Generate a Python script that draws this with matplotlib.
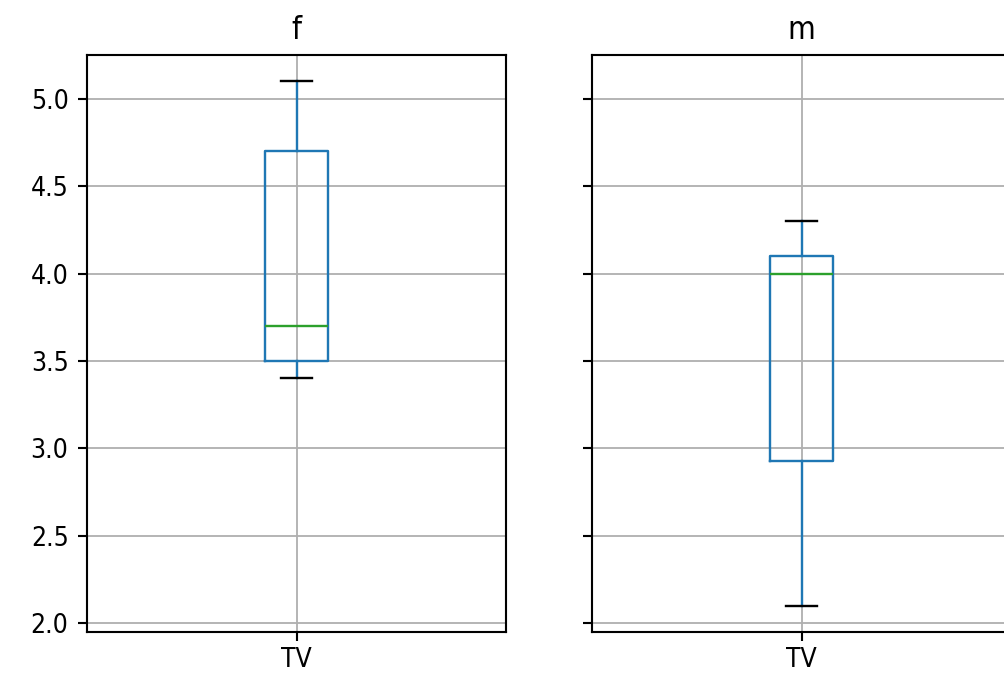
import matplotlib
matplotlib.use("Agg")
import matplotlib.pyplot as plt

groups = ["f", "m"]
column = "TV"
f_values = [3.4, 3.5, 3.7, 4.7, 5.1]
m_values = [2.1, 2.93, 4.0, 4.1, 4.3]
data = {"f": f_values, "m": m_values}

plt.rcParams['font.family'] = ['DejaVu Sans']
plt.rcParams['font.stretch'] = 'condensed'

DPI = 190
W, H = 1004, 673
fig = plt.figure(figsize=(W / DPI, H / DPI), dpi=DPI)

ax_w = 419 / W
ax_h = (632 - 55) / H
bottom = (H - 632) / H
lefts = [87 / W, 592 / W]

axes = []
for i, g in enumerate(groups):
    ax = fig.add_axes([lefts[i], bottom, ax_w, ax_h], sharey=axes[0] if axes else None)
    ax.boxplot([data[g]], tick_labels=[column],
               boxprops=dict(color="C0", linewidth=0.9),
               whiskerprops=dict(color="C0", linewidth=0.9),
               capprops=dict(color="k", linewidth=0.9),
               medianprops=dict(color="C2", linewidth=0.9),
               flierprops=dict(markeredgecolor="C0"))
    ax.set_title(g, fontsize=12)
    ax.grid(True, color="#b0b0b0", linewidth=0.7)
    ax.tick_params(axis="x", pad=2.2)
    if i > 0:
        ax.tick_params(labelleft=False)
    axes.append(ax)

axes[0].set_yticks([2.0, 2.5, 3.0, 3.5, 4.0, 4.5, 5.0])
fig.savefig("out.png", dpi=DPI)
